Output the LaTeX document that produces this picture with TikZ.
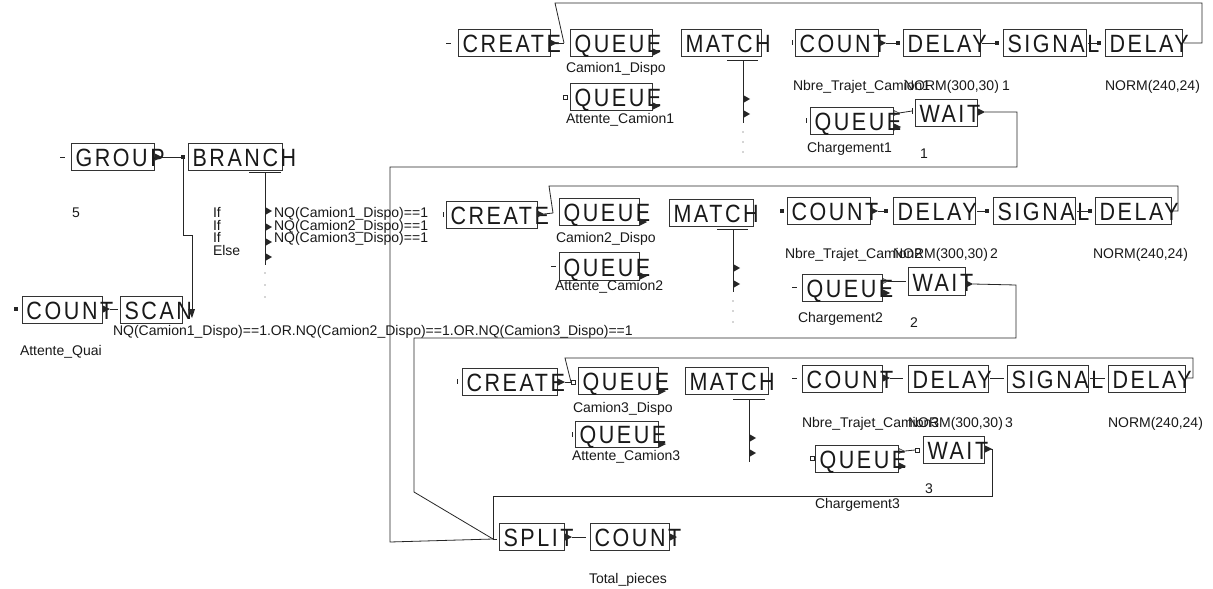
\documentclass[tikz,border=0pt]{standalone}
\usepackage{fontspec}
\setmainfont{Liberation Sans}
\newfontfamily\blkfont[LetterSpace=12]{Liberation Sans}
\usetikzlibrary{calc}
\tikzset{
  blkbox/.style={draw=black!80, line width=0.9pt, inner sep=0pt, outer sep=0pt},
  blktxt/.style={font=\blkfont\fontsize{25}{25}\selectfont, inner sep=0pt, outer sep=0pt, text=black!90},
  lbl/.style={font=\fontsize{14}{14}\selectfont, inner sep=0pt, outer sep=0pt, anchor=base west, text=black!90},
  wire/.style={line width=0.8pt, draw=black!85},
}
\newcommand\blk[6]{%
  \node[blkbox, minimum width={(#4)-(#2)}, minimum height={(#5)-(#3)}, anchor=north west] (#1) at (#2,#3) {};
  \node[blktxt, anchor=base west] (#1-t) at ([xshift=4.5pt,yshift=4pt]#1.south west) {\scalebox{0.86}[1]{#6}};}
\newcommand\tri[1]{\fill[black!85] (#1) ++(0,-3.5) -- ++(7,3.5) -- ++(-7,3.5) -- cycle;}
\newcommand\stri[1]{\fill[black!85] (#1) ++(0,-3.5) -- ++(6,3.5) -- ++(-6,3.5) -- cycle;}
\newcommand\otri[1]{\draw[black!85, line width=0.5pt] (#1) ++(0,-2.5) -- ++(5,2.5) -- ++(-5,2.5) -- cycle;}
\newcommand\fsq[1]{\fill[black!85] (#1) ++(-2,-2) rectangle ++(4,4);}
\newcommand\osq[1]{\draw[black!85, line width=0.5pt] (#1) ++(-2,-2) rectangle ++(4,4);}
\newcommand\dotp[1]{\fill[black!70] (#1) circle (0.7);}
\begin{document}
\begin{tikzpicture}[x=1pt,y=-1pt]
\useasboundingbox (0,0) rectangle (1213,589);
\fill[white] (0,0) rectangle (1213,589);

% ================= ROW 1 =================
\blk{cr1}{458}{29}{550}{56}{CREATE}
\blk{qa1}{570}{29}{652}{56}{QUEUE}
\blk{ma1}{681}{29}{761}{56}{MATCH}
\blk{qb1}{570}{83}{652}{110}{QUEUE}
\blk{co1}{795}{29}{878}{56}{COUNT}
\blk{da1}{903}{29}{980}{56}{DELAY}
\blk{si1}{1003}{29}{1086}{56}{SIGNAL}
\blk{db1}{1105}{29}{1182}{56}{DELAY}
\blk{qc1}{810}{107}{893}{134}{QUEUE}
\blk{wa1}{915}{99}{977}{126}{WAIT}

\coordinate (cr1i) at (446,43);
\coordinate (cr1o) at (557,43);
\coordinate (qa1i) at (564,43);
\draw[wire] (cr1i) -- ++(5,0);
\tri{550,43}
\draw[wire] (cr1o) -- (qa1i);
\tri{653,52}
\tri{653,106}
\osq{565,97}
% match 1
\coordinate (ma1b) at (743,60);
\coordinate (ma1e) at (743,123);
\draw[wire] (727,60) -- (758,60);
\draw[wire] (ma1b) -- (ma1e);
\stri{744,99}
\stri{744,114}
\dotp{743,132}\dotp{743,142}\dotp{743,152}
% count-delay-signal-delay
\coordinate (co1o) at (886,43);
\coordinate (da1i) at (898,43);
\coordinate (da1o) at (982,43);
\coordinate (si1i) at (997,43);
\coordinate (si1o) at (1088,43);
\coordinate (db1i) at (1099,43);
\coordinate (db1o) at (1184,43);
\draw[wire] (792,40) -- (792,45);
\tri{879,43}
\draw[wire] (co1o) -- (da1i); \fsq{898,43}
\draw[wire] (da1o) -- (si1i); \fsq{997,43}
\draw[wire] (si1o) -- (db1i); \fsq{1099,43}
\draw[wire] (db1o) -- (1202,43) -- (1202,3) -- (555,3) -- (qa1i);
% chargement / wait
\coordinate (qc1o) at (899,113);
\coordinate (wa1i) at (912,111);
\coordinate (wa1o) at (985,112);
\coordinate (spi) at (493,539);
\draw[wire] (806,118) -- (806,123);
\otri{894,113}
\draw[wire] (qc1o) -- (wa1i);
\draw[wire] (912,108) -- (912,114);
\tri{894,127}
\tri{978,112}
\draw[wire] (wa1o) -- (1017,112) -- (1017,167) -- (390,167) -- (390,542) -- (spi);

\node[lbl] at (566,72) {Camion1\_Dispo};
\node[lbl] at (566,123) {Attente\_Camion1};
\node[lbl] at (793,90) {Nbre\_Trajet\_Camion1};
\node[lbl] at (904,90) {NORM(300,30)};
\node[lbl] at (1002,90) {1};
\node[lbl] at (1105,90) {NORM(240,24)};
\node[lbl] at (807,152) {Chargement1};
\node[lbl] at (920,158) {1};

% ================= LEFT =================
\blk{gr}{71}{143}{154}{170}{GROUP}
\blk{br}{188}{143}{282}{170}{BRANCH}
\blk{cq}{22}{296}{102}{323}{COUNT}
\blk{sc}{120}{296}{182}{323}{SCAN}

\coordinate (gri) at (60,157);
\coordinate (gro) at (162,157);
\coordinate (bri) at (183,157);
\coordinate (sco) at (192,316);
\draw[wire] (gri) -- ++(5,0);
\tri{155,157}
\draw[wire] (gro) -- (bri); \fsq{183,157}
\draw[wire] (bri) -- (183,235) -- (192,235) -- (sco);
\fill[black!85] (188,309) -- (195,309) -- (192,318) -- cycle;
% branch bar
\coordinate (brb) at (265,172);
\coordinate (bre) at (265,265);
\draw[wire] (249,172) -- (281,172);
\draw[wire] (brb) -- (bre);
\stri{266,211}\stri{266,227}\stri{266,242}\stri{266,257}
\dotp{265,273}\dotp{265,285}\dotp{265,297}
\node[lbl] at (72,217) {5};
\node[lbl] at (213,217) {If};
\node[lbl] at (213,230) {If};
\node[lbl] at (213,242) {If};
\node[lbl] at (213,255) {Else};
\node[lbl] at (274,217) {NQ(Camion1\_Dispo)==1};
\node[lbl] at (274,230) {NQ(Camion2\_Dispo)==1};
\node[lbl] at (274,242) {NQ(Camion3\_Dispo)==1};
% count / scan
\coordinate (cqo) at (110,309);
\coordinate (sci) at (118,309);
\fsq{16,309}
\tri{103,309}
\draw[wire] (cqo) -- (sci);
\node[lbl] at (20,355) {Attente\_Quai};
\node[lbl] at (113,335) {NQ(Camion1\_Dispo)==1.OR.NQ(Camion2\_Dispo)==1.OR.NQ(Camion3\_Dispo)==1};

% ================= ROW 2 =================
\blk{cr2}{446}{201}{537}{228}{CREATE}
\blk{qa2}{559}{198}{639}{225}{QUEUE}
\blk{ma2}{669}{199}{753}{226}{MATCH}
\blk{qb2}{559}{252}{639}{280}{QUEUE}
\blk{co2}{787}{197}{870}{224}{COUNT}
\blk{da2}{893}{197}{975}{224}{DELAY}
\blk{si2}{993}{197}{1075}{224}{SIGNAL}
\blk{db2}{1095}{197}{1171}{224}{DELAY}
\blk{qc2}{802}{274}{882}{301}{QUEUE}
\blk{wa2}{908}{267}{965}{295}{WAIT}

\coordinate (cr2o) at (544,214);
\coordinate (qa2i) at (553,213);
\draw[wire] (443,212) -- (443,217);
\tri{537,214}
\draw[wire] (cr2o) -- (qa2i);
\tri{640,222}
\tri{640,276}
\draw[wire] (551,266) -- (556,266);
\coordinate (ma2b) at (733,229);
\coordinate (ma2e) at (733,292);
\draw[wire] (717,229) -- (748,229);
\draw[wire] (ma2b) -- (ma2e);
\stri{734,268}\stri{734,284}
\dotp{733,301}\dotp{733,311}\dotp{733,322}
\coordinate (co2o) at (878,211);
\coordinate (da2i) at (886,211);
\coordinate (da2o) at (977,211);
\coordinate (si2i) at (987,211);
\coordinate (si2o) at (1077,211);
\coordinate (db2i) at (1090,211);
\coordinate (db2o) at (1173,211);
\fsq{782,211}
\tri{871,211}
\draw[wire] (co2o) -- (da2i); \fsq{886,211}
\draw[wire] (da2o) -- (si2i); \fsq{987,211}
\draw[wire] (si2o) -- (db2i); \fsq{1090,211}
\draw[wire] (db2o) -- (1178,211) -- (1178,186) -- (549,186) -- (qa2i);
\coordinate (qc2o) at (888,281);
\coordinate (wa2i) at (903,281);
\coordinate (wa2o) at (973,284);
\draw[wire] (792,287) -- (797,287);
\otri{883,281}
\draw[wire] (qc2o) -- (wa2i);
\draw[wire] (901,281) -- (906,281);
\tri{883,293}
\tri{966,284}
\draw[wire] (wa2o) -- (1016,285) -- (1016,338) -- (414,338) -- (414,492) -- (spi);

\node[lbl] at (556,242) {Camion2\_Dispo};
\node[lbl] at (555,290) {Attente\_Camion2};
\node[lbl] at (785,258) {Nbre\_Trajet\_Camion2};
\node[lbl] at (893,258) {NORM(300,30)};
\node[lbl] at (990,258) {2};
\node[lbl] at (1093,258) {NORM(240,24)};
\node[lbl] at (798,322) {Chargement2};
\node[lbl] at (910,327) {2};

% ================= ROW 3 =================
\blk{cr3}{462}{368}{557}{395}{CREATE}
\blk{qa3}{578}{367}{658}{394}{QUEUE}
\blk{ma3}{685}{367}{768}{394}{MATCH}
\blk{qb3}{575}{421}{658}{447}{QUEUE}
\blk{co3}{802}{365}{882}{392}{COUNT}
\blk{da3}{908}{365}{988}{392}{DELAY}
\blk{si3}{1007}{365}{1088}{392}{SIGNAL}
\blk{db3}{1108}{365}{1185}{392}{DELAY}
\blk{qc3}{815}{445}{898}{472}{QUEUE}
\blk{wa3}{923}{436}{984}{463}{WAIT}

\coordinate (cr3o) at (565,382);
\coordinate (qa3i) at (571,382);
\draw[wire] (457,379) -- (457,384);
\tri{558,382}
\draw[wire] (cr3o) -- (qa3i);
\osq{573,382}
\tri{659,391}
\tri{659,444}
\draw[wire] (572,432) -- (572,437);
\coordinate (ma3b) at (749,399);
\coordinate (ma3e) at (749,462);
\draw[wire] (733,399) -- (765,399);
\draw[wire] (ma3b) -- (ma3e);
\stri{750,438}\stri{750,453}
\coordinate (co3o) at (890,378);
\coordinate (da3i) at (903,378);
\coordinate (da3o) at (990,378);
\coordinate (si3i) at (1004,378);
\coordinate (si3o) at (1090,378);
\coordinate (db3i) at (1105,378);
\coordinate (db3o) at (1187,378);
\draw[wire] (792,378) -- (797,378);
\tri{883,378}
\draw[wire] (co3o) -- (da3i);
\draw[wire] (da3o) -- (si3i);
\draw[wire] (si3o) -- (db3i);
\draw[wire] (db3o) -- (1193,378) -- (1193,358) -- (565,358) -- (qa3i);
\coordinate (qc3o) at (905,451);
\coordinate (wa3i) at (915,450);
\coordinate (wa3o) at (991,449);
\osq{812,458}
\otri{899,451}
\draw[wire] (qc3o) -- (wa3i);
\osq{917,450}
\tri{899,466}
\tri{985,449}
\draw[wire] (wa3o) -- (992,449) -- (992,496) -- (493,496) -- (spi);

\node[lbl] at (573,412) {Camion3\_Dispo};
\node[lbl] at (572,460) {Attente\_Camion3};
\node[lbl] at (802,427) {Nbre\_Trajet\_Camion3};
\node[lbl] at (908,427) {NORM(300,30)};
\node[lbl] at (1005,427) {3};
\node[lbl] at (1108,427) {NORM(240,24)};
\node[lbl] at (815,508) {Chargement3};
\node[lbl] at (925,493) {3};

% ================= BOTTOM =================
\blk{sp}{499}{523}{564}{550}{SPLIT}
\blk{ct}{590}{523}{669}{550}{COUNT}
\coordinate (spo) at (572,537);
\coordinate (cti) at (586,537);
\draw[wire] (spi) -- ++(4,0);
\tri{565,537}
\draw[wire] (spo) -- (cti);
\tri{670,537}
\node[lbl] at (589,583) {Total\_pieces};
\end{tikzpicture}
\end{document}
